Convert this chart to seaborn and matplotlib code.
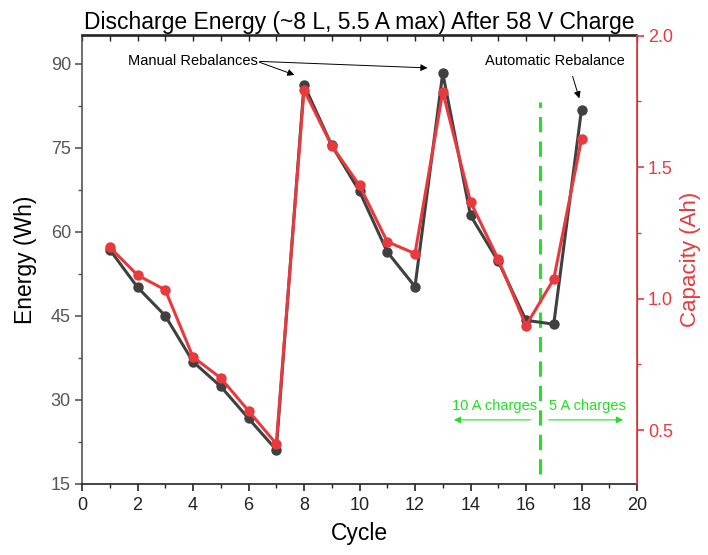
import matplotlib
matplotlib.use("Agg")
import matplotlib.pyplot as plt
from matplotlib.ticker import MultipleLocator
import seaborn as sns
import pandas as pd

# ---- data ----
cycles = list(range(1, 19))
energy_wh = [56.8, 50.1, 45.0, 36.8, 32.4, 26.7, 21.1, 86.2, 75.4, 67.2,
             56.4, 50.2, 88.3, 62.9, 54.7, 44.2, 43.5, 81.8]
capacity_ah = [1.195, 1.089, 1.033, 0.778, 0.698, 0.573, 0.448, 1.793, 1.581, 1.430,
               1.216, 1.171, 1.786, 1.368, 1.149, 0.897, 1.074, 1.606]

title = "Discharge Energy (~8 L, 5.5 A max) After 58 V Charge"
xlabel = "Cycle"
ylabel_left = "Energy (Wh)"
ylabel_right = "Capacity (Ah)"
x_ticks = [0, 2, 4, 6, 8, 10, 12, 14, 16, 18, 20]
left_ticks = [15, 30, 45, 60, 75, 90]
right_ticks = [0.5, 1.0, 1.5, 2.0]
divider_cycle = 16.5

df = pd.DataFrame({"Cycle": cycles, "Energy": energy_wh, "Capacity": capacity_ah})

sns.set_style("ticks")
plt.rcParams["font.family"] = ["Liberation Sans", "DejaVu Sans"]

BLACK = "#404040"
RED = "#e8393d"
GREEN = "#22e022"

fig = plt.figure(figsize=(7.08, 5.55), dpi=100)
ax = fig.add_axes([82/708, 1-484/555, (637-82)/708, (484-35.5)/555])
ax2 = ax.twinx()

sns.lineplot(data=df, x="Cycle", y="Energy", ax=ax, color=BLACK, marker="o",
             markersize=7.5, markeredgewidth=0, linewidth=2.2, zorder=3)
sns.lineplot(data=df, x="Cycle", y="Capacity", ax=ax2, color=RED, marker="o",
             markersize=7.5, markeredgewidth=0, linewidth=2.2, zorder=3)

ax.set_xlim(0, 20)
ax.set_ylim(15, 95)
ax2.set_ylim(0.295, 2.0)

ax.set_xticks(x_ticks)
ax.xaxis.set_minor_locator(MultipleLocator(1))
ax.set_yticks(left_ticks)
ax.yaxis.set_minor_locator(MultipleLocator(7.5))
ax2.set_yticks(right_ticks)
ax2.yaxis.set_minor_locator(MultipleLocator(0.25))

ax.set_xlabel(xlabel, fontsize=16.5, color="black", labelpad=6)
ax.set_ylabel(ylabel_left, fontsize=16.5, color="black", labelpad=10)
ax2.set_ylabel(ylabel_right, fontsize=16, color=RED, labelpad=5)
ax.set_title(title, fontsize=16.5, color="black", pad=5)

for spine in ["left", "bottom", "top"]:
    ax.spines[spine].set_linewidth(1.2)
    ax.spines[spine].set_color("#222222")
ax.spines["left"].set_color("#555555")
ax2.spines["right"].set_color(RED)
ax2.spines["right"].set_linewidth(1.2)
for s in ["left", "bottom", "top"]:
    ax2.spines[s].set_visible(False)

ax.tick_params(axis="x", which="major", direction="out", length=5, width=1.2,
               labelsize=13, labelcolor="#222222", color="#222222", pad=4)
ax.tick_params(axis="x", which="minor", direction="out", length=3, width=1.0, color="#222222")
ax.tick_params(axis="y", which="major", direction="out", length=5, width=1.2,
               labelsize=13, labelcolor="#555555", color="#555555", pad=3)
ax.tick_params(axis="y", which="minor", direction="out", length=3, width=1.0, color="#555555")
ax2.tick_params(axis="y", which="major", direction="out", length=5, width=1.2,
                labelsize=13, labelcolor=RED, color=RED, pad=3)
ax2.tick_params(axis="y", which="minor", direction="out", length=3, width=1.0, color=RED)

top = ax.secondary_xaxis("top")
top.set_xticks(x_ticks)
top.xaxis.set_minor_locator(MultipleLocator(1))
top.tick_params(which="both", direction="in", length=4, width=1.0,
                labeltop=False, color="#222222")
top.spines["top"].set_linewidth(1.2)

# divider line
ax.axvline(divider_cycle, ymin=0.022, ymax=0.852, color=GREEN, linewidth=2.2,
           dashes=(5, 3), zorder=2)

# charge regime labels
trans = ax.get_xaxis_transform()
ax.text(14.85, 0.175, "10 A charges", transform=trans, color=GREEN,
        fontsize=10.5, ha="center", va="center")
ax.text(18.2, 0.175, "5 A charges", transform=trans, color=GREEN,
        fontsize=10.5, ha="center", va="center")
ax.annotate("", xy=(13.3, 0.143), xytext=(16.27, 0.143), xycoords=trans, textcoords=trans,
            arrowprops=dict(arrowstyle="-|>", color=GREEN, lw=0.8, mutation_scale=10))
ax.annotate("", xy=(19.6, 0.143), xytext=(16.72, 0.143), xycoords=trans, textcoords=trans,
            arrowprops=dict(arrowstyle="-|>", color=GREEN, lw=0.8, mutation_scale=10))

# annotations
ax.text(4.0, 90.4, "Manual Rebalances", fontsize=10.5, ha="center", va="center", color="black")
ax.annotate("", xy=(7.75, 87.8), xytext=(6.3, 90.4),
            arrowprops=dict(arrowstyle="-|>", color="black", lw=0.7, mutation_scale=10))
ax.annotate("", xy=(12.55, 89.2), xytext=(6.3, 90.4),
            arrowprops=dict(arrowstyle="-|>", color="black", lw=0.7, mutation_scale=10))
ax.text(17.05, 90.4, "Automatic Rebalance", fontsize=10.5, ha="center", va="center", color="black")
ax.annotate("", xy=(17.95, 83.3), xytext=(17.65, 88.2),
            arrowprops=dict(arrowstyle="-|>", color="black", lw=0.7, mutation_scale=10))

fig.savefig("out.png", dpi=100)
